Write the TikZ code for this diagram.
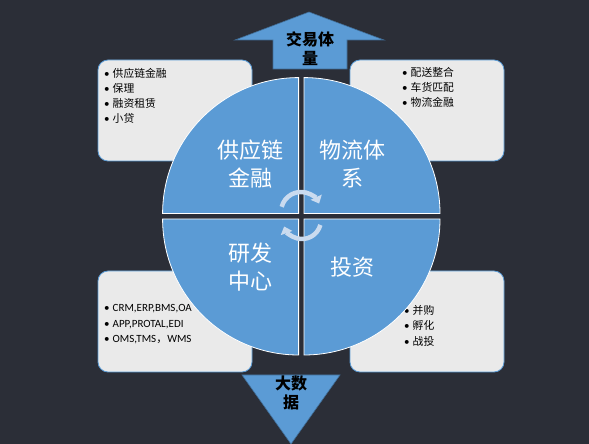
\documentclass[tikz,border=0pt]{standalone}
\usepackage{fontspec}
\setmainfont{Carlito}
\newfontfamily\cjk{Noto Sans CJK SC}
\usetikzlibrary{arrows.meta}
\definecolor{bg}{HTML}{2B2E37}
\definecolor{qblue}{HTML}{5B9BD5}
\definecolor{boxfill}{HTML}{EAEAEA}
\definecolor{arcc}{HTML}{CADBEF}
\begin{document}
\begin{tikzpicture}[x=1pt,y=1pt,
  infobox/.style={fill=boxfill,draw=qblue,line width=0.8pt,rounded corners=10pt},
  quad/.style={fill=qblue,draw=white,line width=0.8pt},
  qlabel/.style={text=white,font=\cjk\fontsize{22}{28}\selectfont,align=center,inner sep=0pt},
  item/.style={anchor=west,inner sep=0pt,font=\cjk\fontsize{10.8}{12}\selectfont,text=black},
  litem/.style={anchor=west,inner sep=0pt,font=\fontsize{11}{12}\selectfont,text=black},
  bigarrow/.style={fill=qblue,draw=qblue!70!black,line width=0.6pt},
  alabel/.style={font=\cjk\bfseries\fontsize{16}{19}\selectfont,align=center,text=black,inner sep=0pt},
  cyc/.style={draw=arcc,line width=4.5pt,-{Triangle[width=12pt,length=7pt]}}]
\fill[bg] (0,0) rectangle (589,444);
\useasboundingbox (0,0) rectangle (589,444);
% info boxes
\draw[infobox] (98,283) rectangle (252,384);
\draw[infobox] (350,283) rectangle (504,384);
\draw[infobox] (98,72) rectangle (252,173);
\draw[infobox] (350,72) rectangle (504,173);
% box texts
\newcommand{\bul}{\makebox[8.5pt][l]{\rmfamily\fontsize{11}{12}\selectfont\textbullet}}
\node[item] (tl1) at (104,371) {\bul 供应链金融};
\node[item] (tl2) at (104,356) {\bul 保理};
\node[item] (tl3) at (104,341) {\bul 融资租赁};
\node[item] (tl4) at (104,326) {\bul 小贷};
\node[item] (tr1) at (402,372) {\bul 配送整合};
\node[item] (tr2) at (402,357) {\bul 车货匹配};
\node[item] (tr3) at (402,342) {\bul 物流金融};
\node[litem] (bl1) at (104,135) {\bul CRM,ERP,BMS,OA};
\node[litem] (bl2) at (104,119) {\bul APP,PROTAL,EDI};
\node[litem] (bl3) at (104,104) {\bul OMS,TMS{\cjk ，}WMS};
\node[item] (br1) at (404,134) {\bul 并购};
\node[item] (br2) at (404,119) {\bul 孵化};
\node[item] (br3) at (404,103) {\bul 战投};
% quadrants
\draw[quad] (298.6,230.4) -- ++(-136,0) arc[start angle=180,end angle=90,radius=136] -- cycle;
\draw[quad] (304,230.4) -- ++(0,136) arc[start angle=90,end angle=0,radius=136] -- cycle;
\draw[quad] (298.6,225) -- ++(0,-136) arc[start angle=270,end angle=180,radius=136] -- cycle;
\draw[quad] (304,225) -- ++(136,0) arc[start angle=0,end angle=-90,radius=136] -- cycle;
\node[qlabel] (q1) at (250,280) {供应链\\金融};
\node[qlabel] (q2) at (352,280) {物流体\\系};
\node[qlabel] (q3) at (250,177) {研发\\中心};
\node[qlabel] (q4) at (352,177) {投资};
% cycle arrows
\draw[cyc] (301,232) ++(165:20) arc[start angle=165,end angle=25,radius=20];
\draw[cyc] (302,224) ++(-15:19) arc[start angle=-15,end angle=-160,radius=19];
% big arrows
\draw[bigarrow] (309,432) -- (384,404) -- (347,404) -- (347,375) -- (273,375) -- (273,404) -- (235,404) -- cycle;
\node[alabel] (up) at (310,395) {交易体\\量};
\draw[bigarrow] (242,69) -- (340,69) -- (291,0) -- cycle;
\node[alabel] (down) at (291,51) {大数\\据};
\end{tikzpicture}
\end{document}
